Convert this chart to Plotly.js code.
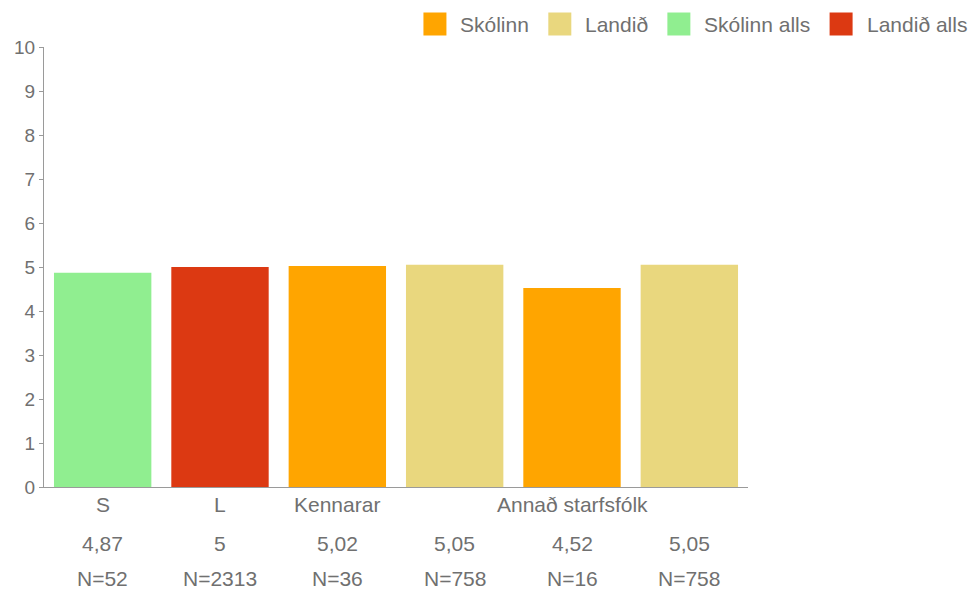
<!DOCTYPE html>
<html>
<head>
<meta charset="utf-8">
<script src="https://cdn.plot.ly/plotly-3.0.1.min.js"></script>
<style>html,body{margin:0;padding:0;background:#fff;}#chart{width:969px;height:590px;}</style>
</head>
<body>
<div id="chart"></div>
<script>
// Data
const barLabels = ["S", "L", "Kennarar", "", "Annað starfsfólk", ""];
const barValues = [4.87, 5, 5.02, 5.05, 4.52, 5.05];
const valueLabels = ["4,87", "5", "5,02", "5,05", "4,52", "5,05"];
const countLabels = ["N=52", "N=2313", "N=36", "N=758", "N=16", "N=758"];
const barSeries = ["Skólinn alls", "Landið alls", "Skólinn", "Landið", "Skólinn", "Landið"];
const seriesNames = ["Skólinn", "Landið", "Skólinn alls", "Landið alls"];
const seriesColors = ["#FFA500", "#E9D77E", "#90EE90", "#DC3912"];
const yTicks = [0, 1, 2, 3, 4, 5, 6, 7, 8, 9, 10];

const FONT = "Liberation Sans, Arial, Helvetica, sans-serif";
const GREY = "#707070";
const W = 969, H = 590;
const M = { l: 44, r: 221, t: 47, b: 103 };
const PW = W - M.l - M.r, PH = H - M.t - M.b;

const idx = barValues.map((_, i) => i);
const traces = [];
seriesNames.forEach((name, s) => {
  const xs = [], ys = [];
  idx.forEach(i => { if (barSeries[i] === name) { xs.push(i); ys.push(barValues[i]); } });
  traces.push({
    type: "bar", x: xs, y: ys, name: name, showlegend: false,
    marker: { color: seriesColors[s], line: { width: 0 } },
    width: 0.83, hoverinfo: "y"
  });
});

const annotations = [];
const rowFont = { family: FONT, size: 21, color: GREY };
idx.forEach(i => {
  if (barLabels[i]) annotations.push({ x: i, y: 0, xref: "x", yref: "paper", yanchor: "middle",
    yshift: -17, text: barLabels[i], showarrow: false, font: rowFont });
  annotations.push({ x: i, y: 0, xref: "x", yref: "paper", yanchor: "middle",
    yshift: -56, text: valueLabels[i], showarrow: false, font: rowFont });
  annotations.push({ x: i, y: 0, xref: "x", yref: "paper", yanchor: "middle",
    yshift: -91, text: countLabels[i], showarrow: false, font: rowFont });
});

// Custom legend (top right), laid out from measured text widths
const shapes = [];
const ctx = document.createElement("canvas").getContext("2d");
ctx.font = "21px 'Liberation Sans'";
const legRight = 966, sq = 23, txtGap = 13, itemGap = 20, legCy = 24;
let cursor = legRight;
for (let s = seriesNames.length - 1; s >= 0; s--) {
  const w = ctx.measureText(seriesNames[s]).width;
  const tx = cursor - w;
  const sqR = tx - txtGap, sqL = sqR - sq;
  annotations.push({ xref: "paper", yref: "paper", x: (tx - M.l) / PW, y: (H - M.b - legCy) / PH,
    xanchor: "left", yanchor: "middle", text: seriesNames[s], showarrow: false,
    font: { family: FONT, size: 21, color: GREY }, xshift: -1 });
  shapes.push({ type: "rect", xref: "paper", yref: "paper",
    x0: (sqL - M.l) / PW, x1: (sqR - M.l) / PW,
    y0: (H - M.b - legCy - sq / 2) / PH, y1: (H - M.b - legCy + sq / 2) / PH,
    fillcolor: seriesColors[s], line: { width: 0 } });
  cursor = sqL - itemGap;
}

const layout = {
  width: W, height: H,
  margin: M,
  paper_bgcolor: "#fff", plot_bgcolor: "#fff",
  barmode: "overlay",
  font: { family: FONT, size: 19, color: GREY },
  xaxis: {
    range: [-0.5, 5.5], tickvals: idx, showticklabels: false,
    showgrid: false, zeroline: false, showline: true, linecolor: "#9a9a9a", linewidth: 1,
    ticks: "", fixedrange: true
  },
  yaxis: {
    range: [0, 10], tickvals: yTicks, ticktext: yTicks.map(String),
    showgrid: false, zeroline: false, showline: true, linecolor: "#9a9a9a", linewidth: 1,
    ticks: "outside", ticklen: 4, tickcolor: "#9a9a9a",
    tickfont: { family: FONT, size: 19, color: GREY }, fixedrange: true
  },
  showlegend: false,
  annotations: annotations,
  shapes: shapes
};

Plotly.newPlot("chart", traces, layout, { displayModeBar: false, staticPlot: true });
</script>
</body>
</html>
